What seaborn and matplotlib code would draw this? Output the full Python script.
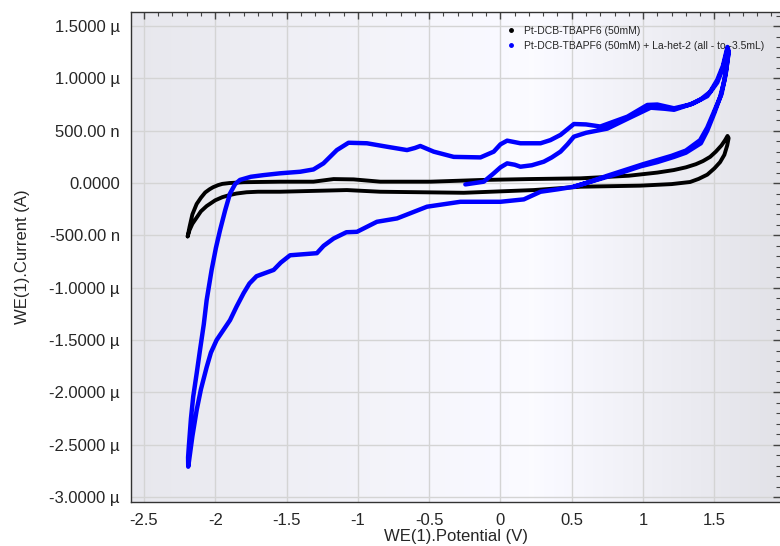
import numpy as np
import pandas as pd
import seaborn as sns
import matplotlib.pyplot as plt
from matplotlib.ticker import FixedLocator, MultipleLocator

# Pt-DCB-TBAPF6 (50mM): potential (V), current (uA)
black_v = [-2.193, -2.18, -2.16, -2.13, -2.1, -2.07, -2.04, -2.015, -1.98, -1.95, -1.9, -1.8,
           -1.7, -1.545, -1.311, -1.17, -1.03, -0.843, -0.49, -0.14, 0.2, 0.562, 0.9, 1.1,
           1.215, 1.3, 1.37, 1.42, 1.47, 1.51, 1.55, 1.575, 1.592,
           1.6, 1.59, 1.57, 1.54, 1.5, 1.45, 1.39, 1.33, 1.2, 0.98, 0.562, 0.234, -0.257,
           -0.843, -1.077, -1.545, -1.7, -1.78, -1.85, -1.9, -1.95, -2.0, -2.06, -2.1, -2.13,
           -2.16, -2.18, -2.193]
black_i = [-0.51, -0.42, -0.3, -0.2, -0.14, -0.09, -0.06, -0.04, -0.02, -0.008, 0.0, 0.008,
           0.01, 0.013, 0.013, 0.038, 0.035, 0.013, 0.013, 0.029, 0.038, 0.045, 0.07, 0.1,
           0.124, 0.15, 0.18, 0.21, 0.25, 0.3, 0.36, 0.41, 0.45,
           0.43, 0.36, 0.27, 0.2, 0.14, 0.08, 0.04, 0.01, -0.01, -0.025, -0.035, -0.067, -0.093,
           -0.083, -0.067, -0.083, -0.083, -0.088, -0.1, -0.115, -0.135, -0.165, -0.22, -0.27,
           -0.33, -0.39, -0.45, -0.51]

# Pt-DCB-TBAPF6 (50mM) + La-het-2: potential (V), current (uA), in scan order
blue_v = [-0.246, -0.117, -0.047, 0.0, 0.047, 0.1, 0.14, 0.22, 0.304, 0.36, 0.421, 0.47,
          0.515, 0.6, 0.749, 0.9, 1.053, 1.15, 1.217, 1.35, 1.45, 1.52, 1.56, 1.592,
          1.6, 1.585, 1.57, 1.54, 1.5, 1.45, 1.405, 1.3, 1.217, 1.1, 0.983, 0.85, 0.749, 0.6,
          0.515, 0.4, 0.281, 0.164, 0.0, -0.281, -0.515, -0.725, -0.866, -1.006, -1.08, -1.17,
          -1.24, -1.287, -1.38, -1.475, -1.54, -1.59, -1.65, -1.71, -1.76, -1.8, -1.85, -1.896,
          -1.95, -1.99, -2.03, -2.06, -2.1, -2.13, -2.16, -2.189,
          -2.19, -2.185, -2.17, -2.154, -2.13, -2.107, -2.08, -2.06, -2.025, -1.995, -1.966,
          -1.93, -1.896, -1.86, -1.826, -1.75, -1.66, -1.545, -1.404, -1.311, -1.241, -1.147,
          -1.065, -0.936, -0.796, -0.655, -0.6, -0.562, -0.468, -0.328, -0.14, -0.047, 0.0,
          0.047, 0.14, 0.281, 0.35, 0.421, 0.515, 0.6, 0.7, 0.89, 1.03, 1.1,
          1.217, 1.33, 1.405, 1.47, 1.52, 1.56, 1.592,
          1.6, 1.58, 1.55, 1.5, 1.45, 1.4, 1.3, 1.2, 1.0, 0.75, 0.6, 0.515]
blue_i = [-0.013, 0.013, 0.093, 0.15, 0.188, 0.175, 0.156, 0.17, 0.204, 0.245, 0.3, 0.37,
          0.443, 0.48, 0.52, 0.62, 0.72, 0.71, 0.70, 0.76, 0.83, 0.96, 1.1, 1.28,
          1.25, 1.1, 0.98, 0.82, 0.67, 0.5, 0.38, 0.29, 0.25, 0.2, 0.16, 0.1, 0.06, 0.0,
          -0.035, -0.06, -0.083, -0.156, -0.179, -0.179, -0.226, -0.338, -0.37, -0.466, -0.47,
          -0.53, -0.6, -0.67, -0.68, -0.69, -0.76, -0.83, -0.86, -0.89, -0.96, -1.05, -1.18,
          -1.31, -1.42, -1.5, -1.62, -1.76, -1.97, -2.17, -2.42, -2.71,
          -2.62, -2.52, -2.25, -2.04, -1.82, -1.6, -1.35, -1.12, -0.83, -0.62, -0.45,
          -0.26, -0.1, -0.01, 0.03, 0.06, 0.076, 0.093, 0.108, 0.13, 0.188, 0.315,
          0.385, 0.38, 0.347, 0.315, 0.335, 0.354, 0.3, 0.25, 0.245, 0.3, 0.37,
          0.405, 0.38, 0.38, 0.41, 0.46, 0.564, 0.56, 0.54, 0.634, 0.746, 0.75,
          0.714, 0.75, 0.8, 0.87, 0.985, 1.12, 1.3,
          1.26, 1.05, 0.85, 0.69, 0.53, 0.41, 0.31, 0.26, 0.18, 0.07, 0.0, -0.035]

labels = ['Pt-DCB-TBAPF6 (50mM)', 'Pt-DCB-TBAPF6 (50mM) + La-het-2 (all - to -3.5mL)']

y_ticks = [1.5e-6, 1.0e-6, 0.5e-6, 0.0, -0.5e-6, -1.0e-6, -1.5e-6, -2.0e-6, -2.5e-6, -3.0e-6]
y_ticklabels = ['1.5000 µ', '1.0000 µ', '500.00 n', '0.0000', '-500.00 n', '-1.0000 µ',
                '-1.5000 µ', '-2.0000 µ', '-2.5000 µ', '-3.0000 µ']
x_ticks = [-2.5, -2, -1.5, -1, -0.5, 0, 0.5, 1, 1.5]
x_ticklabels = ['-2.5', '-2', '-1.5', '-1', '-0.5', '0', '0.5', '1', '1.5']

sns.set_style('white')
plt.rcParams['font.family'] = ['Liberation Sans', 'DejaVu Sans']

fig = plt.figure(figsize=(7.8, 5.46), dpi=100)
ax = fig.add_axes([0.168, 0.081, 0.832, 0.897])

# horizontal grey-white-grey gradient background
grad = np.interp(np.linspace(0, 1, 256), [0, 0.62, 1], [0.92, 1.0, 0.9])
rgb = np.stack([grad * 0.985, grad * 0.985, np.minimum(grad * 1.01, 1.0)], axis=-1)[None, :, :]
ax.imshow(rgb, extent=[0, 1, 0, 1], transform=ax.transAxes, aspect='auto', zorder=0)

df_black = pd.DataFrame({'v': black_v, 'i': np.array(black_i) * 1e-6})
df_blue = pd.DataFrame({'v': blue_v, 'i': np.array(blue_i) * 1e-6})
sns.lineplot(data=df_black, x='v', y='i', sort=False, estimator=None, color='black',
             lw=2.8, ax=ax, zorder=3)
sns.lineplot(data=df_blue, x='v', y='i', sort=False, estimator=None, color='#0000ff',
             lw=3.2, ax=ax, zorder=4)
for ln in ax.lines:
    ln.set_solid_joinstyle('round')
    ln.set_solid_capstyle('round')

ax.set_xlim(-2.59, 1.96)
ax.set_ylim(-3.045e-6, 1.634e-6)

ax.xaxis.set_major_locator(FixedLocator(x_ticks))
ax.set_xticklabels(x_ticklabels)
ax.xaxis.set_minor_locator(MultipleLocator(0.1))
ax.yaxis.set_major_locator(FixedLocator(y_ticks))
ax.set_yticklabels(y_ticklabels)
ax.yaxis.set_minor_locator(MultipleLocator(0.1e-6))

ax.grid(True, which='major', color='#d4d4d4', lw=1.0, zorder=1)
ax.set_axisbelow(True)
ax.tick_params(which='both', direction='in', top=True, right=True, color='#444444',
               labelsize=12, pad=8)
ax.tick_params(which='major', length=5, width=1)
ax.tick_params(which='minor', length=3, width=0.8)
for side in ['left', 'bottom', 'top']:
    ax.spines[side].set_color('#333333')
    ax.spines[side].set_linewidth(1.0)
ax.spines['right'].set_visible(False)

ax.set_xlabel('WE(1).Potential (V)', fontsize=12, labelpad=1)
ax.set_ylabel('WE(1).Current (A)', fontsize=12, labelpad=14)

handles = [plt.Line2D([], [], ls='none', marker='o', ms=2.5, color='black'),
           plt.Line2D([], [], ls='none', marker='o', ms=2.5, color='#0000ff')]
ax.legend(handles, labels, loc='upper right', bbox_to_anchor=(0.985, 0.985), frameon=False,
          fontsize=7.5, handletextpad=0.6, handlelength=1.2, labelspacing=0.5,
          borderaxespad=0.2)

fig.savefig('out.png', dpi=100)
